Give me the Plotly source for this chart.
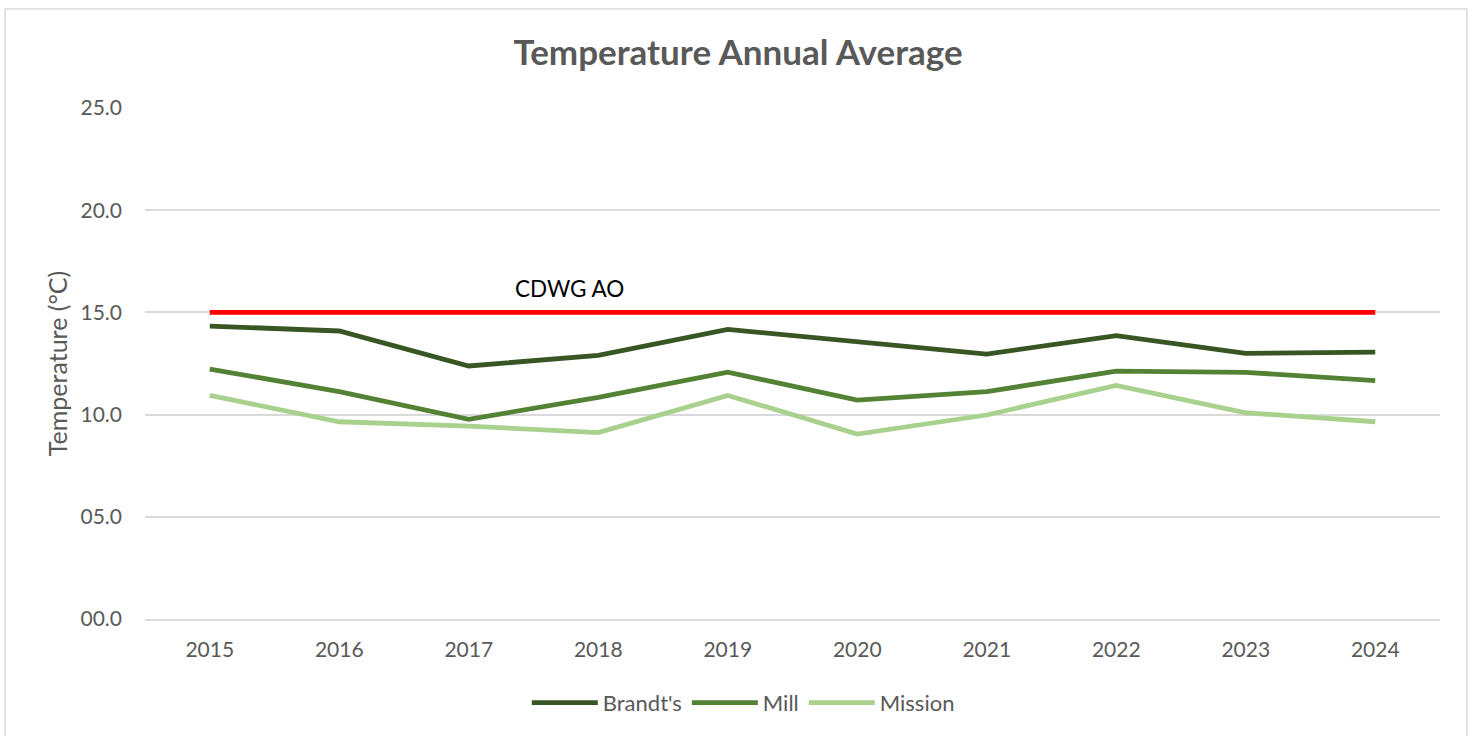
import plotly.graph_objects as go

years = [2015, 2016, 2017, 2018, 2019, 2020, 2021, 2022, 2023, 2024]
brandts = [14.33, 14.09, 12.38, 12.90, 14.17, 13.57, 12.96, 13.86, 13.00, 13.06]
mill = [12.23, 11.12, 9.77, 10.84, 12.08, 10.71, 11.12, 12.13, 12.07, 11.66]
mission = [10.94, 9.65, 9.44, 9.12, 10.94, 9.05, 9.98, 11.43, 10.09, 9.65]
cdwg_ao = [15.0] * len(years)

y_ticks = [0, 5, 10, 15, 20, 25]
y_tick_text = ["00.0", "05.0", "10.0", "15.0", "20.0", "25.0"]

FONT = "Lato, Open Sans, sans-serif"
GREY = "#595959"

fig = go.Figure()
fig.add_trace(go.Scatter(x=years, y=cdwg_ao, mode="lines", showlegend=False,
                         line=dict(color="#FF0000", width=4.8)))
fig.add_trace(go.Scatter(x=years, y=brandts, mode="lines", name="Brandt's",
                         line=dict(color="#375623", width=4.8)))
fig.add_trace(go.Scatter(x=years, y=mill, mode="lines", name="Mill",
                         line=dict(color="#548235", width=4.8)))
fig.add_trace(go.Scatter(x=years, y=mission, mode="lines", name="Mission",
                         line=dict(color="#A9D18E", width=4.8)))

fig.add_annotation(x=2017.78, y=15, yshift=24, text="CDWG AO", showarrow=False,
                   font=dict(family=FONT, size=22.5, color="#000000"))

# outer chart frame
fig.add_shape(type="rect", xref="paper", yref="paper",
              x0=-0.1081, x1=1.0208, y0=-0.3, y1=1.1937,
              line=dict(color="#D9D9D9", width=1.5), layer="below")

fig.update_layout(
    width=1476, height=736,
    margin=dict(l=145, r=36, t=108, b=117),
    paper_bgcolor="white", plot_bgcolor="white",
    title=dict(text="<b>Temperature Annual Average</b>", x=0.5, xanchor="center",
               y=0.928, yanchor="middle",
               font=dict(family=FONT, size=35, color=GREY)),
    font=dict(family=FONT, size=21, color=GREY),
    xaxis=dict(range=[2014.5, 2024.5], tickvals=years, ticktext=[str(y) for y in years],
               showgrid=False, zeroline=False, showline=True,
               linecolor="#D9D9D9", linewidth=1.5, ticks="", ticklen=0,
               ticklabelstandoff=11,
               tickfont=dict(size=21, color=GREY)),
    yaxis=dict(range=[0, 25], tickvals=y_ticks, ticktext=y_tick_text,
               showgrid=True, gridcolor="#D9D9D9", gridwidth=1.5,
               zeroline=False, showline=False, ticks="",
               ticklabelstandoff=22,
               tickfont=dict(size=21, color=GREY),
               title=dict(text="Temperature (°C)", standoff=5,
                          font=dict(size=25, color=GREY))),
    legend=dict(orientation="h", x=0.462, xanchor="center", y=-0.164, yanchor="middle",
                font=dict(size=22, color=GREY), itemwidth=66, tracegroupgap=0),
)

fig.write_html("out.html")
